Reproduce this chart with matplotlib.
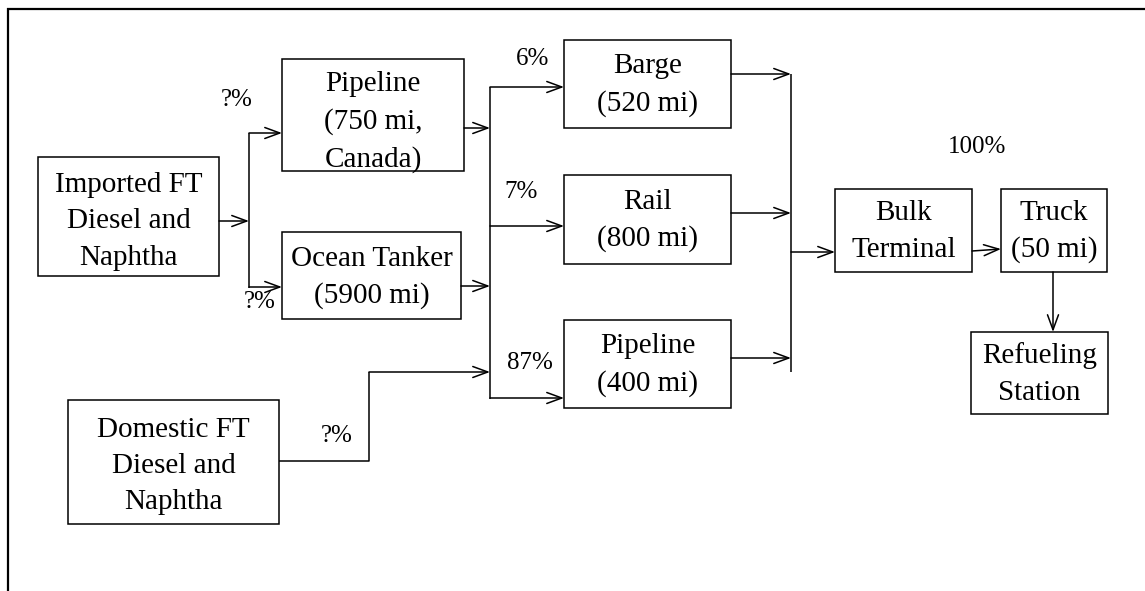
import matplotlib
matplotlib.use("Agg")
import matplotlib.pyplot as plt
from matplotlib.patches import Rectangle

# ---- data (text content) ----
box_labels = [
    "Imported FT\nDiesel and\nNaphtha",
    "Pipeline\n(750 mi,\nCanada)",
    "Ocean Tanker\n(5900 mi)",
    "Domestic FT\nDiesel and\nNaphtha",
    "Barge\n(520 mi)",
    "Rail\n(800 mi)",
    "Pipeline\n(400 mi)",
    "Bulk\nTerminal",
    "Truck\n(50 mi)",
    "Refueling\nStation",
]
share_labels = ["?%", "?%", "?%", "6%", "7%", "87%", "100%"]

# ---- layout (pixel coordinates, y from top) ----
box_geom = [
    (38, 157, 219, 276),
    (282, 59, 464, 171),
    (282, 232, 461, 319),
    (68, 400, 279, 524),
    (564, 40, 731, 128),
    (564, 175, 731, 264),
    (564, 320, 731, 408),
    (835, 189, 972, 272),
    (1001, 189, 1107, 272),
    (971, 332, 1108, 414),
]
text_dy = [5, 7, 2, 4, 1, 1, 1, 1, 1, 1]
label_pos = [(237, 100), (260, 302), (337, 436), (533, 59), (521, 192), (530, 363), (977, 147)]

W, H = 1145, 591
fig = plt.figure(figsize=(W / 100, H / 100), dpi=100)
ax = fig.add_axes([0, 0, 1, 1])
ax.set_xlim(0, W)
ax.set_ylim(H, 0)
ax.axis("off")

FONT = "Liberation Serif"
FS = 21
LW = 1.1

# outer frame (top and left)
ax.plot([7, W], [9, 9], color="black", lw=1.6, solid_capstyle="butt")
ax.plot([8, 8], [8, H], color="black", lw=1.6, solid_capstyle="butt")

for lab, (x0, y0, x1, y1), dy in zip(box_labels, box_geom, text_dy):
    ax.add_patch(Rectangle((x0, y0), x1 - x0, y1 - y0, fill=False, ec="black", lw=LW))
    ax.text((x0 + x1) / 2, (y0 + y1) / 2 + dy, lab, ha="center", va="center",
            fontsize=FS, family=FONT, linespacing=1.52)

for lab, (x, y) in zip(share_labels, label_pos):
    ax.text(x, y, lab, ha="center", va="center", fontsize=18, family=FONT)


def line(xs, ys):
    ax.plot(xs, ys, color="black", lw=LW, solid_capstyle="butt")


def arrow(x0, y0, x1, y1):
    ax.annotate("", xy=(x1, y1), xytext=(x0, y0),
                arrowprops=dict(arrowstyle="->,head_length=0.6,head_width=0.22",
                                lw=LW, color="black",
                                mutation_scale=18, shrinkA=0, shrinkB=0))


# imported split
arrow(219, 221, 249, 221)
line([249, 249], [133, 288])
arrow(249, 133, 282, 133)
arrow(249, 287, 282, 287)

# into second bus
arrow(464, 128, 490, 128)
arrow(461, 286, 490, 286)
line([490, 490], [87, 399])
arrow(490, 87, 564, 87)
arrow(490, 226, 564, 226)
arrow(490, 398, 564, 398)

# domestic step line
line([279, 369, 369], [461, 461, 372])
arrow(369, 372, 490, 372)

# collect bus
arrow(731, 74, 791, 74)
arrow(731, 213, 791, 213)
arrow(731, 358, 791, 358)
line([791, 791], [74, 372])
arrow(791, 252, 835, 252)

arrow(972, 251, 1001, 249)
arrow(1053, 272, 1053, 332)

fig.savefig("out.png", dpi=100)
